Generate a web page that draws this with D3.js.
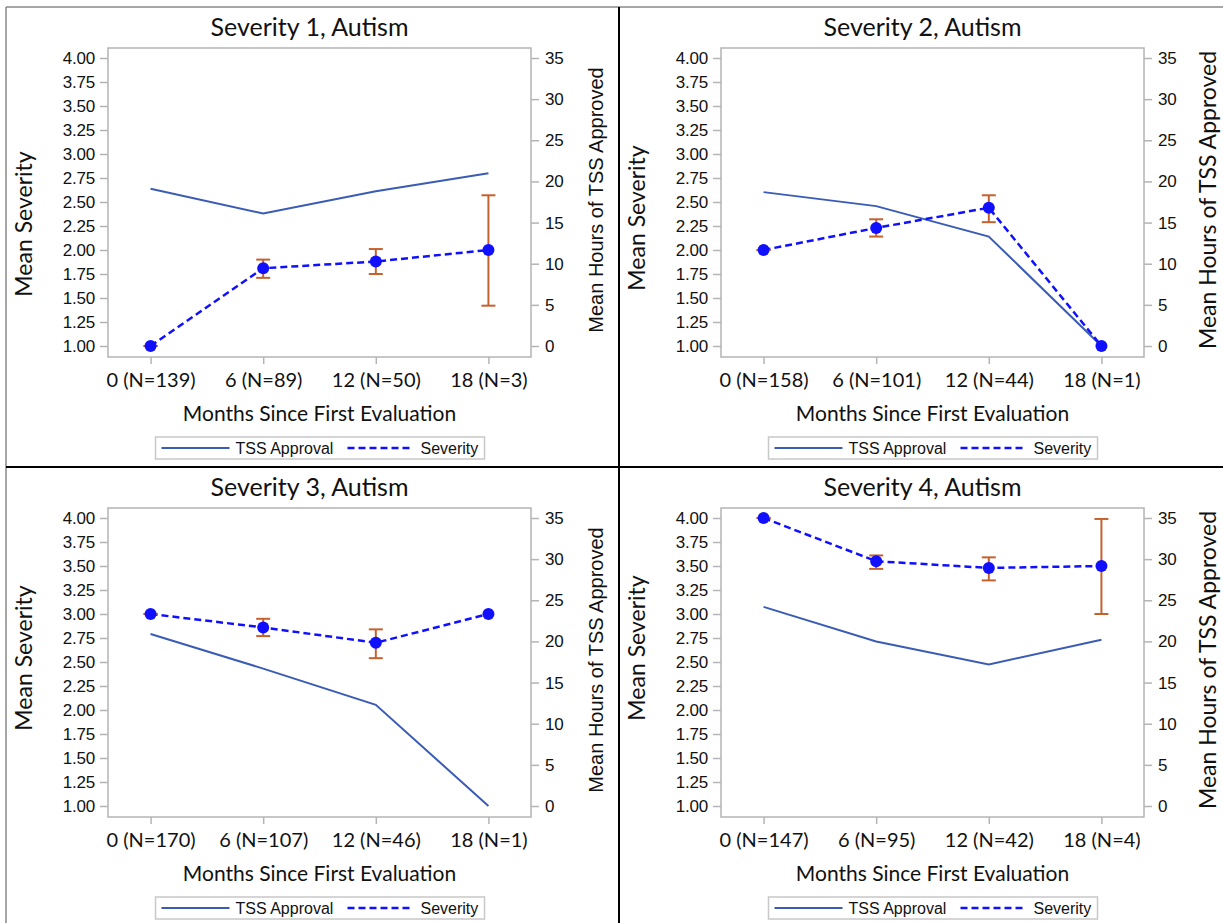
<!DOCTYPE html>
<html>
<head>
<meta charset="utf-8">
<script src="https://cdn.jsdelivr.net/npm/d3@7"></script>
<style>
  body { margin: 0; background: #fff; }
  .tick text { font-family: "Liberation Sans", Arial, sans-serif; }
</style>
</head>
<body>
<script>
// data
var titles = ["Severity 1, Autism", "Severity 2, Autism", "Severity 3, Autism", "Severity 4, Autism"];

var xLabels1 = ["0 (N=139)", "6 (N=89)", "12 (N=50)", "18 (N=3)"];
var xLabels2 = ["0 (N=158)", "6 (N=101)", "12 (N=44)", "18 (N=1)"];
var xLabels3 = ["0 (N=170)", "6 (N=107)", "12 (N=46)", "18 (N=1)"];
var xLabels4 = ["0 (N=147)", "6 (N=95)", "12 (N=42)", "18 (N=4)"];

// mean hours of TSS approved (right axis)
var tss1 = [19.1, 16.1, 18.8, 21.0];
var tss2 = [18.7, 17.0, 13.3, 0];
var tss3 = [20.9, 16.7, 12.3, 0];
var tss4 = [24.2, 20.0, 17.2, 20.2];

// mean severity (left axis) with error bar limits
var sev1 = [1.00, 1.81, 1.88, 2.00];
var sev2 = [2.00, 2.23, 2.44, 1.00];
var sev3 = [3.00, 2.86, 2.70, 3.00];
var sev4 = [4.00, 3.55, 3.48, 3.50];

var lo1 = [1.00, 1.71, 1.75, 1.42], hi1 = [1.00, 1.90, 2.01, 2.57];
var lo2 = [2.00, 2.14, 2.29, null], hi2 = [2.00, 2.32, 2.57, null];
var lo3 = [3.00, 2.77, 2.54, null], hi3 = [3.00, 2.95, 2.84, null];
var lo4 = [4.00, 3.47, 3.35, 3.00], hi4 = [4.00, 3.61, 3.59, 3.99];

var sevTicks = [1, 1.25, 1.5, 1.75, 2, 2.25, 2.5, 2.75, 3, 3.25, 3.5, 3.75, 4];
var hrsTicks = [0, 5, 10, 15, 20, 25, 30, 35];

var tssColor = "#3a5cb5",
    sevColor = "#1010ff",
    errColor = "#c4622f",
    frameColor = "#b4b4b4";

var svg = d3.select("body").append("svg")
    .attr("width", 1223)
    .attr("height", 923);

// panel placement (left/right column, top/bottom row)
var panels = [
  {title: titles[0], labels: xLabels1, tss: tss1, sev: sev1, lo: lo1, hi: hi1, left: 108, right: 531, dy: 0,   ylab: 224, rlabFont: "Liberation Sans", rlabSize: 20},
  {title: titles[1], labels: xLabels2, tss: tss2, sev: sev2, lo: lo2, hi: hi2, left: 721, right: 1144, dy: 0, ylab: 218, rlabFont: "Lato", rlabSize: 23},
  {title: titles[2], labels: xLabels3, tss: tss3, sev: sev3, lo: lo3, hi: hi3, left: 108, right: 531, dy: 460, ylab: 198, rlabFont: "Liberation Sans", rlabSize: 20},
  {title: titles[3], labels: xLabels4, tss: tss4, sev: sev4, lo: lo4, hi: hi4, left: 721, right: 1144, dy: 460, ylab: 188, rlabFont: "Lato", rlabSize: 23}
];

panels.forEach(function(p) {
  var g = svg.append("g").attr("transform", "translate(0," + p.dy + ")");
  var top = 48, bottom = 357;

  var x = d3.scalePoint().domain(p.labels).range([p.left, p.right]).padding(0.378);
  var ySev = d3.scaleLinear().domain([1, 4]).range([346, 58]);
  var yHrs = d3.scaleLinear().domain([0, 35]).range([346, 58]);

  // frame
  g.append("rect")
      .attr("x", p.left).attr("y", top)
      .attr("width", p.right - p.left).attr("height", bottom - top)
      .attr("fill", "none").attr("stroke", frameColor).attr("stroke-width", 1.5);

  // axes
  var ax = g.append("g").attr("transform", "translate(" + p.left + ",0)")
      .call(d3.axisLeft(ySev).tickValues(sevTicks).tickFormat(d3.format(".2f")).tickSize(8).tickPadding(5));
  var ar = g.append("g").attr("transform", "translate(" + p.right + ",0)")
      .call(d3.axisRight(yHrs).tickValues(hrsTicks).tickSize(8).tickPadding(6));
  var ab = g.append("g").attr("transform", "translate(0," + bottom + ")")
      .call(d3.axisBottom(x).tickSize(7).tickPadding(9));

  [ax, ar, ab].forEach(function(a) {
    a.select(".domain").remove();
    a.selectAll(".tick line").attr("stroke", frameColor).attr("stroke-width", 1.5);
    a.selectAll(".tick text").attr("fill", "#111").style("font-size", "17px").style("letter-spacing", "-0.2px");
  });
  ab.selectAll(".tick text")
      .style("font-family", "Lato, sans-serif").style("font-size", "20px").style("letter-spacing", "0px")
      .attr("fill", "#111");

  // titles
  var cx = (p.left + p.right) / 2;
  g.append("text")
      .attr("x", cx - 10).attr("y", 36)
      .attr("text-anchor", "middle")
      .style("font-family", "Lato, sans-serif").style("font-size", "25px")
      .attr("fill", "#111")
      .text(p.title);

  g.append("text")
      .attr("x", cx).attr("y", 421)
      .attr("text-anchor", "middle")
      .style("font-family", "Lato, sans-serif").style("font-size", "21px")
      .attr("fill", "#111")
      .text("Months Since First Evaluation");

  g.append("text")
      .attr("transform", "translate(" + (p.left - 76) + "," + p.ylab + ") rotate(-90)")
      .attr("text-anchor", "middle")
      .style("font-family", "Lato, sans-serif").style("font-size", "23px")
      .attr("fill", "#111")
      .text("Mean Severity");

  g.append("text")
      .attr("transform", "translate(" + (p.right + 72) + "," + 200 + ") rotate(-90)")
      .attr("text-anchor", "middle")
      .style("font-family", p.rlabFont + ", sans-serif").style("font-size", p.rlabSize + "px")
      .attr("fill", "#111")
      .text("Mean Hours of TSS Approved");

  // TSS approval line
  var tssLine = d3.line()
      .x(function(d, i) { return x(p.labels[i]); })
      .y(function(d) { return yHrs(d); });
  g.append("path")
      .datum(p.tss)
      .attr("d", tssLine)
      .attr("fill", "none").attr("stroke", tssColor).attr("stroke-width", 2);

  // severity dashed line
  var sevLine = d3.line()
      .x(function(d, i) { return x(p.labels[i]); })
      .y(function(d) { return ySev(d); });
  g.append("path")
      .datum(p.sev)
      .attr("d", sevLine)
      .attr("fill", "none").attr("stroke", sevColor).attr("stroke-width", 2.5)
      .attr("stroke-dasharray", "7,4");

  // error bars
  var bars = p.labels.map(function(l, i) { return {l: l, lo: p.lo[i], hi: p.hi[i]}; })
      .filter(function(d) { return d.lo != null; });
  var eb = g.selectAll(".err").data(bars).enter().append("g").attr("class", "err")
      .attr("stroke", errColor).attr("stroke-width", 2);
  eb.append("line")
      .attr("x1", function(d) { return x(d.l); }).attr("x2", function(d) { return x(d.l); })
      .attr("y1", function(d) { return ySev(d.lo); }).attr("y2", function(d) { return ySev(d.hi); });
  eb.append("line")
      .attr("x1", function(d) { return x(d.l) - 7; }).attr("x2", function(d) { return x(d.l) + 7; })
      .attr("y1", function(d) { return ySev(d.lo); }).attr("y2", function(d) { return ySev(d.lo); });
  eb.append("line")
      .attr("x1", function(d) { return x(d.l) - 7; }).attr("x2", function(d) { return x(d.l) + 7; })
      .attr("y1", function(d) { return ySev(d.hi); }).attr("y2", function(d) { return ySev(d.hi); });

  // markers
  g.selectAll(".dot").data(p.sev).enter().append("circle")
      .attr("class", "dot")
      .attr("r", 6)
      .attr("cx", function(d, i) { return x(p.labels[i]); })
      .attr("cy", function(d) { return ySev(d); })
      .attr("fill", sevColor);

  // legend
  var lx = cx - 164, ly = 437;
  var lg = g.append("g").attr("transform", "translate(" + lx + "," + ly + ")");
  lg.append("rect").attr("width", 329).attr("height", 22)
      .attr("fill", "#fff").attr("stroke", "#c8c8c8").attr("stroke-width", 1.5);
  lg.append("line").attr("x1", 6).attr("x2", 74).attr("y1", 11).attr("y2", 11)
      .attr("stroke", tssColor).attr("stroke-width", 2);
  lg.append("text").attr("x", 80).attr("y", 17)
      .style("font-family", "Liberation Sans, Arial, sans-serif").style("font-size", "16px")
      .attr("fill", "#111").text("TSS Approval");
  lg.append("line").attr("x1", 192).attr("x2", 258).attr("y1", 11).attr("y2", 11)
      .attr("stroke", sevColor).attr("stroke-width", 2.5).attr("stroke-dasharray", "7,4");
  lg.append("text").attr("x", 265).attr("y", 17)
      .style("font-family", "Liberation Sans, Arial, sans-serif").style("font-size", "16px")
      .attr("fill", "#111").text("Severity");
});

// outer border and dividers
svg.append("line").attr("x1", 6).attr("x2", 1223).attr("y1", 7).attr("y2", 7)
    .attr("stroke", "#888").attr("stroke-width", 1.5);
svg.append("line").attr("x1", 6).attr("x2", 6).attr("y1", 7).attr("y2", 923)
    .attr("stroke", "#888").attr("stroke-width", 1.5);
svg.append("line").attr("x1", 619).attr("x2", 619).attr("y1", 7).attr("y2", 923)
    .attr("stroke", "#000").attr("stroke-width", 2);
svg.append("line").attr("x1", 6).attr("x2", 1223).attr("y1", 467).attr("y2", 467)
    .attr("stroke", "#000").attr("stroke-width", 2);
</script>
</body>
</html>
